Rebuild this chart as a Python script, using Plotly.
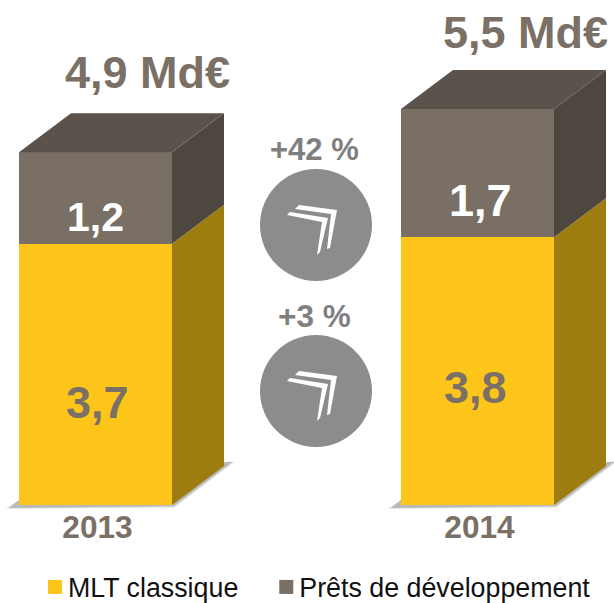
import plotly.graph_objects as go

W, H = 614, 603
BOTTOM = 98
FONT = "Liberation Sans"
PX_PER_UNIT = 72.0      # vertical scale of the bars
PX_PER_X = 382.0        # distance between the two bars
X0_PX = 95.5            # pixel centre of the first bar

# ---- data ----
years = ["2013", "2014"]
# heights measured on the drawing
mlt_classique = [3.63, 3.72]
prets_developpement = [1.27, 1.78]
# printed labels
mlt_labels = ["3,7", "3,8"]
dev_labels = ["1,2", "1,7"]
total_labels = ["4,9 Md€", "5,5 Md€"]
growth_labels = ["+42 %", "+3 %"]
series_names = ["MLT classique", "Prêts de développement"]

# ---- colours ----
YELLOW, YELLOW_SIDE = "#fdc51a", "#9e7d10"
GREY, GREY_SIDE, GREY_TOP = "#796f65", "#4d4740", "#5b524b"
TXT = "#7a7066"

xpos = list(range(len(years)))
bar_w = 153 / PX_PER_X
dx, dy = 52 / PX_PER_X, 39 / PX_PER_UNIT
plot_h = H - BOTTOM


def px(x):
    return x / W


def py(y):
    return (plot_h - y) / plot_h


def poly_path(pts):
    return "M" + " L".join(f"{px(a):.5f},{py(b):.5f}" for a, b in pts) + " Z"


fig = go.Figure()


def face(xs, ys, color):
    fig.add_trace(go.Scatter(x=xs, y=ys, mode="lines", fill="toself", fillcolor=color,
                             line=dict(width=0), hoverinfo="skip", showlegend=False))


fig.add_trace(go.Bar(x=xpos, y=mlt_classique, width=bar_w, name=series_names[0], showlegend=False,
                     marker=dict(color=YELLOW, line=dict(width=0))))
fig.add_trace(go.Bar(x=xpos, y=prets_developpement, width=bar_w, name=series_names[1], showlegend=False,
                     marker=dict(color=GREY, line=dict(width=0))))

for i, m, d in zip(xpos, mlt_classique, prets_developpement):
    r = i + bar_w / 2
    l = i - bar_w / 2
    t = m + d
    face([r, r + dx, r + dx, r, r], [0, dy, m + dy, m, 0], YELLOW_SIDE)
    face([r, r + dx, r + dx, r, r], [m, m + dy, t + dy, t, m], GREY_SIDE)
    face([l, l + dx, r + dx, r, l], [t, t + dy, t + dy, t, t], GREY_TOP)

# legend entries with the reference's square size
for name, col in zip(series_names, (YELLOW, GREY)):
    fig.add_trace(go.Scatter(x=[None], y=[None], mode="markers", name=name,
                             marker=dict(symbol="square", size=14, color=col, line=dict(width=0))))

shapes = []
# soft ground shadow
for i in xpos:
    c = X0_PX + i * PX_PER_X
    l, r = c - 76.5, c + 76.5
    for grow, op in ((4, 0.07), (2.5, 0.12), (1, 0.18), (0, 0.22)):
        shapes.append(dict(type="path", xref="paper", yref="paper", layer="below",
                           path=poly_path([(l - 10 - grow, 508 + grow * 0.2), (l, 500), (r + 52, 462),
                                           (r + 60 + grow, 462 - grow * 0.2), (r + 2, 506 + grow * 0.6)]),
                           fillcolor=f"rgba(110,110,110,{op})", line=dict(width=0)))

# growth badges
circle_cy = [225, 391]
chev_back = [(-17, -20), (21, -15), (14, 23), (11, 24), (15, -11), (-21, -16)]
chev_front = [(-26, -13), (12, -7), (4, 27), (1, 30), (6, -3), (-29, -10)]
for cy in circle_cy:
    cx = 316
    shapes.append(dict(type="circle", xref="paper", yref="paper",
                       x0=px(cx - 56), x1=px(cx + 56), y0=py(cy + 56), y1=py(cy - 56),
                       fillcolor="#8c8c8c", line=dict(width=0)))
    for ch in (chev_back, chev_front):
        shapes.append(dict(type="path", xref="paper", yref="paper",
                           path=poly_path([(cx + a, cy + b) for a, b in ch]),
                           fillcolor="white", line=dict(width=0)))


def note(x, y, text, size, color, bold=True):
    return dict(xref="paper", yref="paper", x=px(x), y=py(y), text=text, showarrow=False,
                xanchor="center", yanchor="middle",
                font=dict(family=FONT, size=size, color=color, weight="bold" if bold else "normal"))


annotations = [
    note(147.5, 72, total_labels[0], 45, TXT),
    note(525.5, 33, total_labels[1], 45, TXT),
    note(95.5, 217, dev_labels[0], 41, "white"),
    note(480.5, 200, dev_labels[1], 45, "white"),
    note(97.5, 402, mlt_labels[0], 45, TXT),
    note(475, 387, mlt_labels[1], 45, TXT),
    note(314, 149, growth_labels[0], 31, "#7f7f7f"),
    note(314, 316, growth_labels[1], 31.5, "#7f7f7f"),
]

fig.update_layout(
    width=W, height=H, autosize=False,
    margin=dict(l=0, r=0, t=0, b=BOTTOM),
    paper_bgcolor="white", plot_bgcolor="white",
    barmode="stack", shapes=shapes, annotations=annotations,
    font=dict(family=FONT),
    xaxis=dict(range=[-X0_PX / PX_PER_X, (W - X0_PX) / PX_PER_X], tickvals=xpos, ticktext=years,
               showgrid=False, zeroline=False, showline=False, ticks="", ticklabelshift=2,
               tickfont=dict(family=FONT, size=31.6, color=TXT, weight="bold")),
    yaxis=dict(range=[0, plot_h / PX_PER_UNIT], visible=False),
    legend=dict(orientation="h", xref="container", yref="container",
                x=px(28), y=1 - 587 / H, xanchor="left", yanchor="middle",
                font=dict(family=FONT, size=26.8, color="#111111"), bgcolor="rgba(0,0,0,0)",
                traceorder="normal", itemclick=False, itemdoubleclick=False),
    showlegend=True,
)
# Page margin off; legend squares nudged next to their labels, second entry spaced out.
post = """
document.body.style.margin = '0';
document.documentElement.style.overflow = 'hidden';
function nudge() {
  document.querySelectorAll('.legendpoints').forEach(function (g) {
    g.setAttribute('transform', 'translate(7,0)');
  });
  document.querySelectorAll('.legend .scrollbox').forEach(function (g) {
    g.removeAttribute('clip-path');
    g.style.clipPath = 'none';
  });
  var t = document.querySelectorAll('.legend .traces');
  if (t.length > 1) {
    var el = t[1];
    if (!el.dataset.base) el.dataset.base = el.getAttribute('transform');
    var m = /translate\\(([-\\d.]+)[ ,]*([-\\d.]*)\\)/.exec(el.dataset.base);
    if (m) el.setAttribute('transform', 'translate(' + (parseFloat(m[1]) + 16) + ',' + (m[2] || 0) + ')');
  }
}
nudge();
var gd = document.getElementById('{plot_id}');
if (gd && gd.on) gd.on('plotly_afterplot', nudge);
setTimeout(nudge, 30);
"""
fig.write_html("out.html", post_script=post, config=dict(displayModeBar=False))
